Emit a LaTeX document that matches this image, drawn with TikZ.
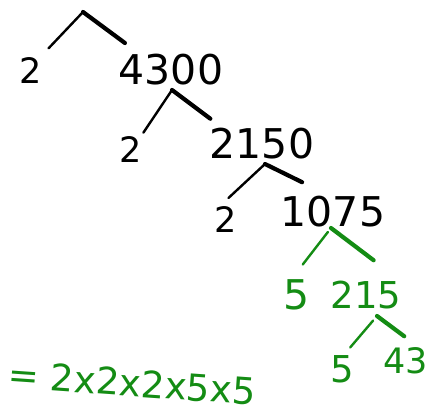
\documentclass[tikz,border=0pt]{standalone}
\usepackage{fontspec}
\setmainfont{DejaVu Sans}
\usepackage{xcolor}
\usepackage{tikz}
\usetikzlibrary{positioning}
\definecolor{treegreen}{RGB}{20,140,20}

\begin{document}
\begin{tikzpicture}[
        x=1pt, y=-1pt,
        big/.style={inner sep=0pt, font=\fontsize{41}{44}\selectfont},
        mid/.style={inner sep=0pt, font=\fontsize{37}{40}\selectfont},
        small/.style={inner sep=0pt, font=\fontsize{35}{38}\selectfont},
        later/.style={text=treegreen},
        twig/.style={line width=2.4pt, line cap=round},
        stroke/.style={line width=4.2pt, line cap=round}
    ]
    \useasboundingbox (0,0) rectangle (431,415);

    \coordinate (splitA) at (83,12);
    \coordinate (splitB) at (172,90);
    \coordinate (splitC) at (265,164);
    \coordinate (splitD) at (331,228);
    \coordinate (splitE) at (377,316);

    \node[small] (two1) at (31,71) {2};
    \node[big] (n4300) at (171,70) {4300};
    \node[small] (two2) at (131,150) {2};
    \node[big] (n2150) at (262,144) {2150};
    \node[small] (two3) at (226,220) {2};
    \node[big] (n1075) at (333,212) {1075};
    \node[big, later] (five1) at (297,295) {5};
    \node[mid, later] (n215) at (366,295) {215};
    \node[mid, later] (five2) at (342,369) {5};
    \node[small, later] (n43) at (406,361) {43};
    \node[mid, later, rotate=-4] (product) at (132,383) {= 2x2x2x5x5};

    \draw[twig, shorten >=13pt] (splitA) -- (two1.57);
    \draw[stroke, shorten >=19pt] (splitA) -- (n4300.153);
    \draw[twig, shorten >=5pt] (splitB) -- (two2.54);
    \draw[stroke, shorten >=16pt] (splitB) -- (n2150.158);
    \draw[twig, shorten >=13pt] (splitC) -- (two3.118);
    \draw[stroke, shorten >=32pt] (splitC) -- (n1075.98);
    \draw[twig, treegreen, shorten <=5pt, shorten >=19pt] (splitD) -- (five1.111);
    \draw[stroke, treegreen, shorten >=35pt] (splitD) -- (n215.21);
    \draw[twig, treegreen, shorten <=6pt, shorten >=10pt] (splitE) -- (five2.83);
    \draw[stroke, treegreen, shorten >=19pt] (splitE) -- (n43.45);
\end{tikzpicture}
\end{document}
